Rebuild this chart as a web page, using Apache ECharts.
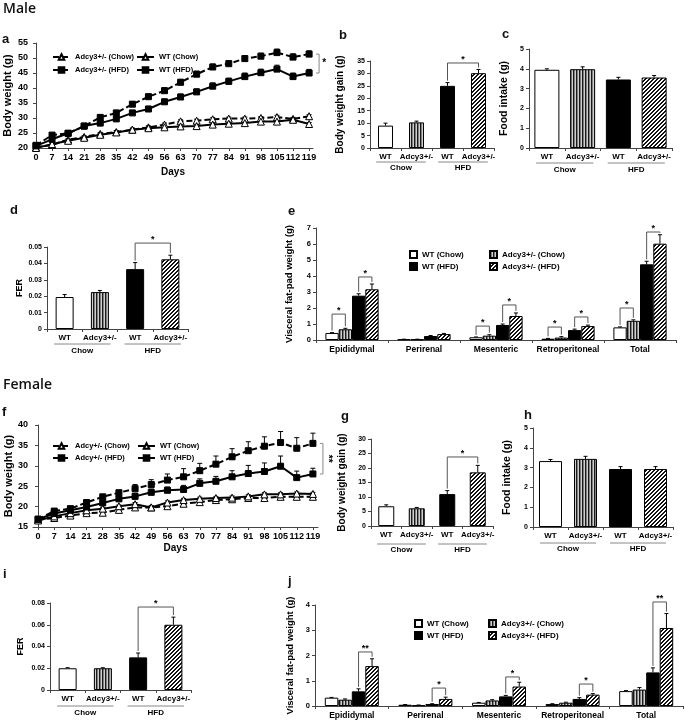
<!DOCTYPE html>
<html><head><meta charset="utf-8">
<script src="https://cdn.jsdelivr.net/npm/echarts@6.0.0/dist/echarts.min.js"></script>
<style>html,body{margin:0;padding:0;background:#fff}#c{width:685px;height:721px}</style>
</head><body><div id="c"></div><script>
// ---------------- DATA ----------------
const days = [0,7,14,21,28,35,42,49,56,63,70,77,84,91,98,105,112,119];
// Male body weight (a)
const mAdcyChow    = [20.3,21.0,22.8,23.7,24.7,25.3,26.1,26.9,27.8,28.9,29.1,29.6,29.8,29.8,30.0,30.3,29.7,30.6];
const mAdcyChowErr = [0.3,0.4,0.4,0.4,0.5,0.5,0.5,0.5,0.5,0.5,0.5,0.5,0.5,0.5,0.5,0.6,0.5,0.5];
const mWTChow      = [20.0,21.3,22.4,23.4,24.4,25.2,26.1,26.6,26.9,27.2,27.3,27.8,28.1,28.3,28.8,28.8,29.4,28.0];
const mWTChowErr   = [0.3,0.4,0.4,0.4,0.4,0.5,0.5,0.5,0.5,0.5,0.5,0.5,0.5,0.5,0.5,0.5,0.5,0.5];
const mAdcyHFD     = [20.9,24.3,24.9,27.3,30.2,31.7,34.6,37.1,39.1,41.9,44.6,47.0,48.1,49.8,50.6,51.8,50.3,51.3];
const mAdcyHFDErr  = [0.4,0.6,0.6,0.7,0.8,0.8,0.9,0.9,1.0,1.0,1.0,1.0,1.0,1.0,1.0,1.2,1.1,1.1];
const mWTHFD       = [20.7,22.9,24.9,27.3,28.3,29.7,31.7,33.0,35.4,37.0,38.7,40.6,42.2,43.8,45.1,46.3,43.8,45.0];
const mWTHFDErr    = [0.4,0.6,0.6,0.7,0.7,0.8,0.8,0.9,0.9,1.0,1.0,1.1,1.1,1.2,1.2,1.3,1.2,1.2];
// Female body weight (f)
const fAdcyChow    = [16.8,17.2,17.8,18.4,18.5,19.2,19.8,19.8,20.1,20.7,21.1,21.6,21.8,22.1,22.1,22.4,22.4,22.4];
const fAdcyChowErr = [0.3,0.3,0.3,0.3,0.3,0.3,0.4,0.4,0.4,0.4,0.4,0.4,0.4,0.4,0.4,0.4,0.4,0.4];
const fWTChow      = [16.6,17.6,18.4,19.1,19.5,20.1,20.6,19.8,21.0,21.6,21.9,22.1,22.2,22.5,23.0,23.0,23.2,23.1];
const fWTChowErr   = [0.3,0.3,0.3,0.3,0.3,0.3,0.4,0.4,0.4,0.4,0.4,0.4,0.4,0.4,0.4,0.4,0.4,0.4];
const fAdcyHFD     = [16.9,18.9,19.5,21.0,22.4,23.4,24.4,25.4,26.5,27.3,28.8,30.4,32.2,33.7,34.8,35.7,34.3,35.5];
const fAdcyHFDErr  = [0.3,0.4,0.4,0.5,0.5,0.6,1.0,1.2,1.5,2.0,1.8,2.0,2.0,2.2,2.3,2.7,2.6,2.5];
const fWTHFD       = [16.9,18.3,19.1,19.9,20.9,21.9,22.5,23.5,24.0,24.2,25.7,26.2,27.3,28.1,28.6,29.9,27.1,28.0];
const fWTHFDErr    = [0.3,0.4,0.4,0.5,0.6,0.6,0.8,0.8,0.8,1.0,1.1,1.2,1.5,2.0,2.1,2.5,1.6,1.4];

const barCats = ['WT','Adcy3+/-','WT','Adcy3+/-'];
const groupLabels = ['Chow','HFD'];
// Male bars
const mGain = [9.0,10.3,25.0,30.1];        const mGainErr = [1.0,0.5,1.3,1.5];
const mFood = [3.95,3.98,3.46,3.56];       const mFoodErr = [0.05,0.12,0.11,0.1];
const mFER  = [0.0195,0.0225,0.0365,0.0425]; const mFERErr = [0.0015,0.001,0.004,0.0025];
// Female bars
const fGain = [6.8,6.1,11.0,18.5];         const fGainErr = [0.5,0.3,1.2,2.4];
const fFood = [3.33,3.44,2.93,2.93];       const fFoodErr = [0.08,0.13,0.12,0.12];
const fFER  = [0.020,0.020,0.030,0.060];   const fFERErr = [0.0005,0.0005,0.004,0.007];
// Visceral fat-pad
const fatDepots = ['Epididymal','Perirenal','Mesenteric','Retroperitoneal','Total'];
const fatSeriesNames = ['WT (Chow)','Adcy3+/- (Chow)','WT (HFD)','Adcy3+/- (HFD)'];
const mFatWTChow   = [0.44,0.04,0.17,0.08,0.79]; const mFatWTChowErr   = [0.02,0.01,0.02,0.02,0.03];
const mFatAdcyChow = [0.67,0.04,0.27,0.15,1.20]; const mFatAdcyChowErr = [0.06,0.01,0.06,0.06,0.06];
const mFatWTHFD    = [2.77,0.25,0.94,0.62,4.73]; const mFatWTHFDErr    = [0.12,0.03,0.06,0.06,0.19];
const mFatAdcyHFD  = [3.17,0.37,1.50,0.87,6.02]; const mFatAdcyHFDErr  = [0.33,0.04,0.19,0.06,0.56];
const fFatWTChow   = [0.33,0.05,0.13,0.08,0.59]; const fFatWTChowErr   = [0.01,0.01,0.01,0.01,0.02];
const fFatAdcyChow = [0.25,0.03,0.22,0.13,0.65]; const fFatAdcyChowErr = [0.03,0.01,0.03,0.02,0.08];
const fFatWTHFD    = [0.58,0.08,0.38,0.28,1.33]; const fFatWTHFDErr    = [0.10,0.01,0.04,0.05,0.18];
const fFatAdcyHFD  = [1.58,0.28,0.77,0.45,3.09]; const fFatAdcyHFDErr  = [0.29,0.07,0.17,0.04,0.57];

// ---------------- STYLE HELPERS ----------------
const FF = '"Liberation Sans Narrow","Liberation Sans",Arial,sans-serif';
const AX = '#444';
function T(s){ return {fontFamily:FF, fontWeight:'bold', fontSize:s, color:'#000'}; }
function F(s){ return 'bold '+s+'px '+FF; }
function mkCanvas(w,h,draw){const c=document.createElement('canvas');c.width=w;c.height=h;draw(c.getContext('2d'));return c;}
const stripeImg = mkCanvas(3,3,x=>{x.fillStyle='#cfcfcf';x.fillRect(0,0,3,3);x.fillStyle='#1a1a1a';x.fillRect(0,0,1,3);x.fillStyle='#808080';x.fillRect(1,0,1,3);});
const hatchImg = mkCanvas(4,4,x=>{x.fillStyle='#fff';x.fillRect(0,0,4,4);x.fillStyle='#111';for(let i=0;i<4;i++){x.fillRect(i,3-i,1,1);x.fillRect(i,(4-i)%4,1,1);}});
const FILLS = ['#ffffff',{image:stripeImg,repeat:'repeat'},'#000000',{image:hatchImg,repeat:'repeat'}];

const grids=[], xAxes=[], yAxes=[], series=[], legends=[];
function addGrid(g){ grids.push(Object.assign({containLabel:false, outerBoundsMode:'none'}, g)); return grids.length-1; }
function yAxis(k,min,max,interval,name,nameGap,nameSize,tickSize){
  return {type:'value', gridIndex:k, min, max, interval, name, nameLocation:'middle', nameGap,
    nameTextStyle:T(nameSize), axisLine:{show:true,lineStyle:{color:AX,width:1}},
    axisTick:{show:true,length:3,lineStyle:{color:AX}}, splitLine:{show:false},
    axisLabel:Object.assign(T(tickSize),{margin:5})};
}
function errSeries(k, data, offset, cap){
  return {type:'custom', xAxisIndex:k, yAxisIndex:k, silent:true, clip:false, z:1, data,
    renderItem:(p,api)=>{
      const a=api.coord([api.value(0),api.value(1)]);
      const b=api.coord([api.value(0),api.value(1)+api.value(2)]);
      const x=a[0]+offset(api.value(3));
      return {type:'group',children:[
        {type:'line',shape:{x1:x,y1:a[1],x2:x,y2:b[1]},style:{stroke:'#000',lineWidth:1}},
        {type:'line',shape:{x1:x-cap,y1:b[1],x2:x+cap,y2:b[1]},style:{stroke:'#000',lineWidth:1}}]};
    }};
}
function bracketSeries(k, specs, top, offset){
  return {type:'custom', xAxisIndex:k, yAxisIndex:k, silent:true, clip:false, z:6,
    data:specs.map(s=>[s[0],s[4]]),
    renderItem:(p,api)=>{
      const s=specs[p.dataIndex];
      const pa=api.coord([s[0],s[4]]), pb=api.coord([s[2],s[4]]);
      const xa=pa[0]+offset(s[1]), xb=pb[0]+offset(s[3]), yL=pa[1];
      const ya=api.coord([s[0],top(s[0],s[1])])[1]-2, yb=api.coord([s[2],top(s[2],s[3])])[1]-2;
      return {type:'group',children:[
        {type:'polyline',shape:{points:[[xa,ya],[xa,yL],[xb,yL],[xb,yb]]},style:{stroke:'#555',lineWidth:1,fill:'none'}},
        {type:'text',x:(xa+xb)/2,y:yL+1,style:{text:s[5],align:'center',verticalAlign:'bottom',font:F(9),fill:'#000'}}]};
    }};
}
function groupSeries(k, lineOff, textOff){
  return {type:'custom', xAxisIndex:k, yAxisIndex:k, silent:true, clip:false,
    data:[[0,0],[2,0]],
    renderItem:(p,api)=>{
      const i=api.value(0); const a=api.coord([i,0]), b=api.coord([i+1,0]); const step=api.size([1,0])[0];
      const y=a[1]+lineOff;
      return {type:'group',children:[
        {type:'line',shape:{x1:a[0]-0.3*step,y1:y,x2:b[0]+0.3*step,y2:y},style:{stroke:'#888',lineWidth:1}},
        {type:'text',x:(a[0]+b[0])/2,y:a[1]+textOff,style:{text:groupLabels[p.dataIndex],align:'center',verticalAlign:'middle',font:F(8),fill:'#000'}}]};
    }};
}

// ---------------- LINE PANELS ----------------
function linePanel(o){
  const k=addGrid(o.grid);
  xAxes.push({type:'value', gridIndex:k, min:o.xmin, max:o.xmax, name:'Days', nameLocation:'middle', nameGap:o.xNameGap,
    nameTextStyle:T(10), axisLine:{show:true,lineStyle:{color:AX}},
    axisTick:{show:true,length:3,customValues:days,lineStyle:{color:AX}},
    axisLabel:Object.assign(T(9),{margin:5,customValues:days}), splitLine:{show:false}});
  yAxes.push(yAxis(k,o.ymin,o.ymax,5,'Body weight (g)',o.yNameGap,11,9));
  o.sets.forEach(s=>{
    series.push({type:'line', name:o.id+'|'+s.name, xAxisIndex:k, yAxisIndex:k, silent:true, z:3,
      data:days.map((d,i)=>[d,s.data[i]]), symbol:s.tri?'triangle':'rect', symbolSize:s.tri?7:6,
      itemStyle:{color:s.tri?'#fff':'#000',borderColor:'#000',borderWidth:1},
      lineStyle:{color:'#000',width:2,type:s.dashed?[6,3]:'solid'}});
    series.push(errSeries(k, days.map((d,i)=>[d,s.data[i],s.err[i],0]), ()=>0, 2.5));
  });
  const b=o.bracket;
  series.push({type:'custom', xAxisIndex:k, yAxisIndex:k, silent:true, clip:false, z:6,
    data:[[days[days.length-1], b.a, b.b]],
    renderItem:(p,api)=>{
      const p1=api.coord([api.value(0),api.value(1)]), p2=api.coord([api.value(0),api.value(2)]);
      const x=p1[0]+10;
      return {type:'group',children:[
        {type:'polyline',shape:{points:[[x-3,p1[1]],[x,p1[1]],[x,p2[1]],[x-3,p2[1]]]},style:{stroke:'#888',lineWidth:1,fill:'none'}},
        {type:'text',x:x+5,y:(p1[1]+p2[1])/2,rotation:b.rot?-Math.PI/2:0,style:{text:b.label,align:'center',verticalAlign:'middle',font:F(10),fill:'#000'}}]};
    }});
  const ls={orient:'vertical',padding:0,itemGap:o.legGap,itemWidth:17,itemHeight:7,selectedMode:false,
    formatter:n=>n.split('|')[1],textStyle:T(7.5)};
  legends.push(Object.assign({left:o.leg[0],top:o.leg[2],data:[o.id+'|'+o.sets[0].name,o.id+'|'+o.sets[2].name]},ls));
  legends.push(Object.assign({left:o.leg[1],top:o.leg[2],data:[o.id+'|'+o.sets[1].name,o.id+'|'+o.sets[3].name]},ls));
}
linePanel({id:'a', grid:{left:33,top:43,width:280,height:105}, xmin:-1.3, xmax:120.7, ymin:20, ymax:55, yNameGap:20, xNameGap:19,
  sets:[{name:'Adcy3+/- (Chow)',data:mAdcyChow,err:mAdcyChowErr,dashed:true,tri:true},
        {name:'WT (Chow)',data:mWTChow,err:mWTChowErr,dashed:false,tri:true},
        {name:'Adcy3+/- (HFD)',data:mAdcyHFD,err:mAdcyHFDErr,dashed:true,tri:false},
        {name:'WT (HFD)',data:mWTHFD,err:mWTHFDErr,dashed:false,tri:false}],
  leg:[52,136,53], legGap:5, bracket:{a:mAdcyHFD[17],b:mWTHFD[17],label:'*',rot:false}});
linePanel({id:'f', grid:{left:33,top:425,width:285,height:102}, xmin:-2.2, xmax:121.2, ymin:15, ymax:40, yNameGap:19, xNameGap:16,
  sets:[{name:'Adcy+/- (Chow)',data:fAdcyChow,err:fAdcyChowErr,dashed:true,tri:true},
        {name:'WT (Chow)',data:fWTChow,err:fWTChowErr,dashed:false,tri:true},
        {name:'Adcy+/- (HFD)',data:fAdcyHFD,err:fAdcyHFDErr,dashed:true,tri:false},
        {name:'WT (HFD)',data:fWTHFD,err:fWTHFDErr,dashed:false,tri:false}],
  leg:[52,137,442], legGap:4, bracket:{a:fAdcyHFD[17],b:fWTHFD[17],label:'**',rot:true}});

// ---------------- SIMPLE BAR PANELS ----------------
function barPanel(o){
  const k=addGrid(o.grid);
  xAxes.push({type:'category', gridIndex:k, data:barCats, axisLine:{show:true,lineStyle:{color:AX}},
    axisTick:{show:true,length:3,lineStyle:{color:AX}}, axisLabel:Object.assign(T(8),{margin:5,interval:0}), splitLine:{show:false}});
  yAxes.push(yAxis(k,0,o.ymax,o.yint,o.yname,o.nameGap,o.nameSize,7));
  series.push({type:'bar', xAxisIndex:k, yAxisIndex:k, barWidth:o.bw, silent:true, z:2,
    data:o.vals.map((v,i)=>({value:v,itemStyle:{color:FILLS[i]}})), itemStyle:{borderColor:'#000',borderWidth:1}});
  series.push(errSeries(k, o.vals.map((v,i)=>[i,v,o.errs[i],0]), ()=>0, 2));
  series.push(groupSeries(k, o.lineOff, o.textOff));
  if(o.bracket) series.push(bracketSeries(k,[o.bracket],(c)=>o.vals[c]+o.errs[c],()=>0));
}
barPanel({grid:{left:370,top:61,width:124,height:87}, vals:mGain, errs:mGainErr, ymax:35, yint:5, yname:'Body weight gain (g)', nameGap:25, nameSize:10, bw:15, lineOff:14, textOff:20, bracket:[2,0,3,0,34.2,'*']});
barPanel({grid:{left:529,top:49,width:143,height:99}, vals:mFood, errs:mFoodErr, ymax:5, yint:1, yname:'Food intake (g)', nameGap:19, nameSize:10.5, bw:25, lineOff:15, textOff:22});
barPanel({grid:{left:47,top:247,width:141,height:82}, vals:mFER, errs:mFERErr, ymax:0.05, yint:0.01, yname:'FER', nameGap:23, nameSize:9, bw:18, lineOff:15, textOff:22, bracket:[2,0,3,0,0.0524,'*']});
barPanel({grid:{left:371,top:439,width:122,height:87}, vals:fGain, errs:fGainErr, ymax:30, yint:5, yname:'Body weight gain (g)', nameGap:24, nameSize:10, bw:16, lineOff:18, textOff:24, bracket:[2,0,3,0,23.8,'*']});
barPanel({grid:{left:533,top:428,width:140,height:99}, vals:fFood, errs:fFoodErr, ymax:5, yint:1, yname:'Food intake (g)', nameGap:20, nameSize:10.5, bw:23, lineOff:16, textOff:22});
barPanel({grid:{left:50,top:603,width:141,height:87}, vals:fFER, errs:fFERErr, ymax:0.08, yint:0.02, yname:'FER', nameGap:25, nameSize:9, bw:18, lineOff:16, textOff:23, bracket:[2,0,3,0,0.0763,'*']});

// ---------------- FAT PANELS ----------------
function fatPanel(o){
  const k=addGrid(o.grid);
  xAxes.push({type:'category', gridIndex:k, data:fatDepots, axisLine:{show:true,lineStyle:{color:AX}},
    axisTick:{show:true,length:3,lineStyle:{color:AX}}, axisLabel:Object.assign(T(8.5),{margin:5,interval:0}), splitLine:{show:false}});
  yAxes.push(yAxis(k,0,o.ymax,1,'Visceral fat-pad weight (g)',o.nameGap,9.5,7.5));
  const off=s=>(s-1.5)*o.bw;
  o.sets.forEach((d,s)=>{
    series.push({type:'bar', name:o.id+'|'+fatSeriesNames[s], xAxisIndex:k, yAxisIndex:k, barWidth:o.bw, barGap:'0%', silent:true, z:2,
      data:d.vals, itemStyle:{color:FILLS[s],borderColor:'#000',borderWidth:1}});
    series.push(errSeries(k, d.vals.map((v,i)=>[i,v,d.errs[i],s]), off, 2));
  });
  series.push(bracketSeries(k,o.brackets,(c,s)=>o.sets[s].vals[c]+o.sets[s].errs[c],off));
  const ls={orient:'vertical',padding:0,itemGap:3,itemWidth:7,itemHeight:7,selectedMode:false,icon:'rect',
    formatter:n=>n.split('|')[1],textStyle:T(8)};
  legends.push(Object.assign({left:o.leg[0],top:o.leg[2],data:[o.id+'|'+fatSeriesNames[0],o.id+'|'+fatSeriesNames[2]]},ls));
  legends.push(Object.assign({left:o.leg[1],top:o.leg[2],data:[o.id+'|'+fatSeriesNames[1],o.id+'|'+fatSeriesNames[3]]},ls));
}
fatPanel({id:'e', grid:{left:316,top:228,width:360,height:112}, ymax:7, nameGap:22, bw:13.3, leg:[409,489,250],
  sets:[{vals:mFatWTChow,errs:mFatWTChowErr},{vals:mFatAdcyChow,errs:mFatAdcyChowErr},{vals:mFatWTHFD,errs:mFatWTHFDErr},{vals:mFatAdcyHFD,errs:mFatAdcyHFDErr}],
  brackets:[[0,0,0,1,1.62,'*'],[0,2,0,3,3.94,'*'],[2,0,2,1,0.87,'*'],[2,2,2,3,2.19,'*'],[3,0,3,1,0.81,'*'],[3,2,3,3,1.44,'*'],[4,0,4,1,2.0,'*'],[4,2,4,3,6.75,'*']]});
fatPanel({id:'j', grid:{left:315,top:605,width:368,height:101}, ymax:4, nameGap:16, bw:13.5, leg:[414,488,619],
  sets:[{vals:fFatWTChow,errs:fFatWTChowErr},{vals:fFatAdcyChow,errs:fFatAdcyChowErr},{vals:fFatWTHFD,errs:fFatWTHFDErr},{vals:fFatAdcyHFD,errs:fFatAdcyHFDErr}],
  brackets:[[0,2,0,3,2.14,'**'],[1,2,1,3,0.71,'*'],[2,2,2,3,1.15,'*'],[3,2,3,3,0.87,'*'],[4,2,4,3,4.12,'**']]});

// ---------------- TITLES ----------------
const LF='bold 13px "Liberation Sans",Arial,sans-serif';
const HF='600 14px "Open Sans",sans-serif';
const labels=[['Male',3,2,HF],['Female',3,378,HF],['a',2,33,LF],['b',339,29,LF],['c',502,28,LF],['d',10,204,LF],['e',288,205,LF],
  ['f',2,406,LF],['g',341,410,LF],['h',524,409,LF],['i',3,568,LF],['j',288,575,LF]];
const graphic=labels.map(l=>({type:'text',left:l[1],top:l[2],style:{text:l[0],font:l[3],fill:'#111'}}));

const chart=echarts.init(document.getElementById('c'),null,{renderer:'canvas'});
chart.setOption({animation:false, backgroundColor:'#fff', grid:grids, xAxis:xAxes, yAxis:yAxes, series, legend:legends, graphic});
</script></body></html>
